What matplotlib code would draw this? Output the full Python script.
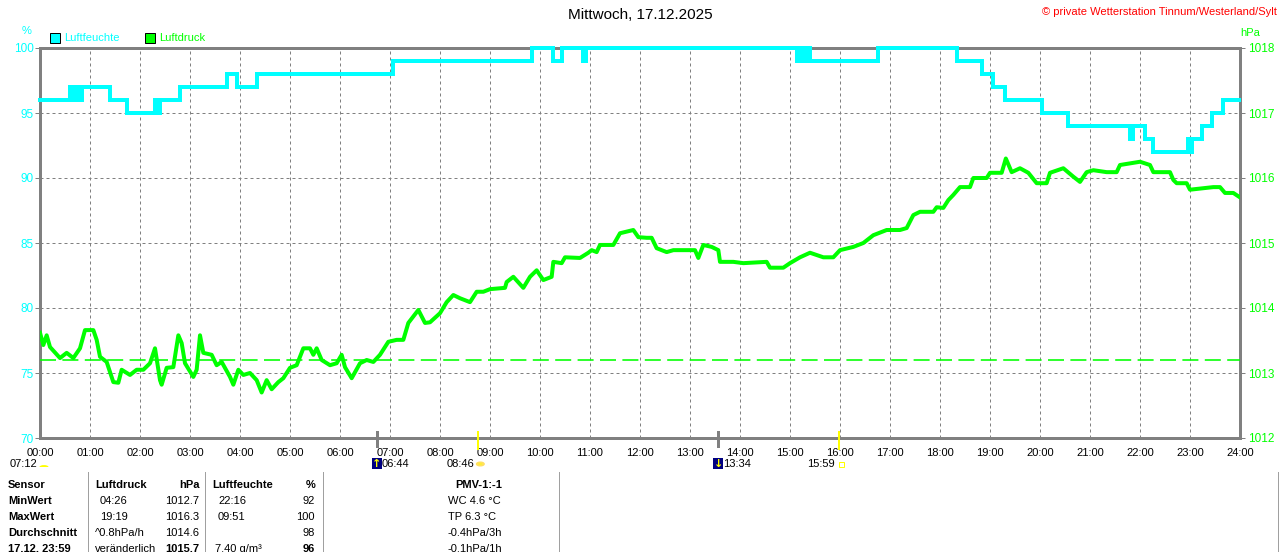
import matplotlib
matplotlib.use('Agg')
import matplotlib.pyplot as plt
from matplotlib import transforms
from matplotlib.lines import Line2D
from matplotlib.patches import Rectangle, Wedge, Circle

plt.rcParams['font.family'] = ['Liberation Sans', 'DejaVu Sans']

# Luftfeuchte in %, Minute seit Mitternacht an der sich der Wert aendert
feuchte_min = [0, 36, 40, 44, 48, 50, 84, 104, 138, 141, 144, 168, 224, 236, 260,
               424, 590, 616, 626, 652, 655, 908, 912, 916, 920, 924, 1006, 1100,
               1130, 1144, 1158, 1202, 1234, 1308, 1312, 1326, 1336, 1378, 1380,
               1382, 1394, 1406, 1420, 1439]
feuchte = [96, 97, 96, 97, 96, 97, 96, 95, 96, 95, 96, 97, 98, 97, 98,
           99, 100, 99, 100, 99, 100, 99, 100, 99, 100, 99, 100, 99,
           98, 97, 96, 95, 94, 93, 94, 93, 92, 93, 92,
           93, 94, 95, 96, 96]

# Luftdruck in hPa
druck_min = [0, 4, 8, 12, 24, 32, 40, 48, 54, 64, 68, 72, 80, 88, 94, 98, 108, 116,
             124, 132, 138, 144, 146, 152, 160, 166, 170, 174, 184, 188, 192, 196,
             206, 212, 218, 228, 232, 238, 244, 252, 260, 266, 272, 278, 286, 292,
             300, 308, 316, 324, 328, 332, 338, 348, 356, 362, 366, 374, 384, 392,
             400, 408, 418, 428, 436, 442, 454, 462, 468, 480, 488, 496, 504, 516,
             524, 532, 540, 558, 560, 568, 580, 588, 596, 604, 614, 616, 626, 630,
             648, 658, 662, 668, 672, 688, 696, 712, 718, 728, 734, 740, 752, 760,
             786, 790, 796, 806, 814, 816, 832, 844, 872, 876, 892, 900, 912, 924,
             940, 952, 960, 976, 988, 1000, 1016, 1032, 1040, 1048, 1056, 1072,
             1076, 1084, 1090, 1096, 1104, 1116, 1120, 1136, 1140, 1154, 1159,
             1166, 1176, 1186, 1196, 1208, 1212, 1228, 1240, 1248, 1256, 1264,
             1280, 1292, 1296, 1320, 1332, 1336, 1356, 1360, 1364, 1376, 1380,
             1408, 1416, 1422, 1432, 1439]
druck = [1013.62, 1013.43, 1013.58, 1013.40, 1013.23, 1013.31, 1013.23, 1013.38,
         1013.66, 1013.66, 1013.51, 1013.25, 1013.17, 1012.86, 1012.85, 1013.05,
         1012.97, 1013.05, 1013.05, 1013.15, 1013.38, 1012.89, 1012.82, 1013.08,
         1013.09, 1013.58, 1013.46, 1013.15, 1012.94, 1013.05, 1013.58, 1013.31,
         1013.28, 1013.12, 1013.17, 1012.94, 1012.82, 1013.05, 1012.97, 1013.00,
         1012.89, 1012.70, 1012.89, 1012.75, 1012.86, 1012.92, 1013.08, 1013.12,
         1013.38, 1013.38, 1013.28, 1013.38, 1013.20, 1013.12, 1013.15, 1013.28,
         1013.09, 1012.92, 1013.15, 1013.20, 1013.17, 1013.28, 1013.48, 1013.51,
         1013.51, 1013.77, 1013.97, 1013.77, 1013.78, 1013.92, 1014.09, 1014.20,
         1014.15, 1014.09, 1014.25, 1014.25, 1014.29, 1014.31, 1014.40, 1014.48,
         1014.31, 1014.48, 1014.58, 1014.43, 1014.48, 1014.71, 1014.69, 1014.78,
         1014.77, 1014.85, 1014.89, 1014.86, 1014.97, 1014.97, 1015.15, 1015.20,
         1015.09, 1015.08, 1015.08, 1014.92, 1014.86, 1014.89, 1014.89, 1014.77,
         1014.97, 1014.94, 1014.89, 1014.71, 1014.71, 1014.69, 1014.71, 1014.62,
         1014.62, 1014.69, 1014.78, 1014.85, 1014.78, 1014.78, 1014.89, 1014.94,
         1015.00, 1015.12, 1015.20, 1015.20, 1015.23, 1015.43, 1015.48, 1015.48,
         1015.55, 1015.54, 1015.66, 1015.74, 1015.86, 1015.86, 1016.00, 1016.00,
         1016.08, 1016.08, 1016.30, 1016.09, 1016.15, 1016.08, 1015.92, 1015.92,
         1016.08, 1016.15, 1016.02, 1015.94, 1016.09, 1016.12, 1016.09, 1016.09,
         1016.20, 1016.25, 1016.20, 1016.09, 1016.09, 1015.97, 1015.92, 1015.92,
         1015.82, 1015.86, 1015.86, 1015.77, 1015.77, 1015.71]

normaldruck = 1013.2
stunden = list(range(0, 25))
stunden_labels = ['%02d:00' % h for h in stunden]
feuchte_ticks = [70, 75, 80, 85, 90, 95, 100]
druck_ticks = [1012, 1013, 1014, 1015, 1016, 1017, 1018]

# Sonne / Mond
tageslaenge = '07:12'
ereignisse = [('06:44', 'mondauf'), ('08:46', 'sonnenauf'),
              ('13:34', 'mondunter'), ('15:59', 'sonnenunter')]

tabelle_kopf = ['Sensor', 'Luftdruck', 'hPa', 'Luftfeuchte', '%', 'PMV-1:-1']
zeilen_name = ['MinWert', 'MaxWert', 'Durchschnitt', '17.12. 23:59']
druck_info = ['04:26', '19:19', '^0.8hPa/h', 'veränderlich']
druck_wert = ['1012.7', '1016.3', '1014.6', '1015.7']
feuchte_info = ['22:16', '09:51', '', '7.40 g/m³']
feuchte_wert = ['92', '100', '98', '96']
pmv_info = ['WC 4.6 °C', 'TP 6.3 °C', '-0.4hPa/3h', '-0.1hPa/1h']

CYAN = '#00ffff'
GRUEN = '#00ff00'
GRAU = '#808080'
W, H = 1280, 552
PX = 72 / 100


def fpos(x, y):
    return x / W, 1 - y / H


fig = plt.figure(figsize=(W / 100, H / 100), dpi=100)
fig.patch.set_facecolor('white')
ax = fig.add_axes([40 / W, 1 - 438 / H, 1200 / W, 390 / H])
ax2 = ax.twinx()

ax.set_xlim(0, 24)
ax.set_ylim(70, 100)
ax2.set_ylim(1012, 1018)

ax.grid(True, color=GRAU, linestyle=(0, (3, 3)), linewidth=1 * PX, zorder=0)
ax.set_axisbelow(True)

fh = [m / 60 for m in feuchte_min]
dh = [m / 60 for m in druck_min]
ax.plot(fh, feuchte, color=CYAN, linewidth=4 * PX, drawstyle='steps-post',
        solid_joinstyle='miter', zorder=3, clip_on=False)
ax2.axhline(normaldruck, color=GRUEN, linestyle=(0, (10, 4)), linewidth=1.6 * PX)
ax2.plot(dh, druck, color=GRUEN, linewidth=4 * PX, zorder=3)

ax.set_xticks(stunden)
ax.set_xticklabels(stunden_labels)
ax.set_yticks(feuchte_ticks)
ax2.set_yticks(druck_ticks)
ax.tick_params(axis='x', length=0, pad=7, labelsize=8, colors='black')
ax.tick_params(axis='y', length=5 * PX, width=1 * PX, color=GRAU, pad=1,
               labelsize=8.5, labelcolor=CYAN)
ax2.tick_params(axis='y', length=5 * PX, width=1 * PX, color=GRAU, pad=2,
                labelsize=8.5, labelcolor=GRUEN)
for s in ax.spines.values():
    s.set_color(GRAU)
    s.set_linewidth(3 * PX)
for s in ax2.spines.values():
    s.set_visible(False)

# Titel und Texte oben
fig.text(*fpos(640, 15), 'Mittwoch, 17.12.2025', ha='center', va='center', fontsize=11)
fig.text(*fpos(1277, 12), '© private Wetterstation Tinnum/Westerland/Sylt',
         ha='right', va='center', fontsize=8, color='red')
fig.text(*fpos(27, 31), '%', ha='center', va='center', fontsize=8, color=CYAN)
fig.text(*fpos(1250, 33), 'hPa', ha='center', va='center', fontsize=8, color=GRUEN)
for x0, farbe, name in [(50, CYAN, 'Luftfeuchte'), (145, GRUEN, 'Luftdruck')]:
    fig.add_artist(Rectangle(fpos(x0, 43), 10 / W, 10 / H, facecolor=farbe,
                             edgecolor='black', linewidth=1 * PX))
    fig.text(*fpos(x0 + 14, 38), name, ha='left', va='center', fontsize=8, color=farbe)

# Sonnen- und Mondzeiten unter der Achse
trans = transforms.blended_transform_factory(ax.transData, ax.transAxes)
fig.text(*fpos(37, 464), tageslaenge, ha='right', va='center', fontsize=8)
fig.add_artist(Wedge(fpos(44, 467), 4.5 / W, 0, 180, facecolor='#ffff00',
                     edgecolor='none', transform=fig.transFigure))
for zeit, art in ereignisse:
    hh, mm = zeit.split(':')
    t = int(hh) + int(mm) / 60
    xp = ax.transData.transform((t, 0))[0]
    if art.startswith('sonne'):
        ax.plot([t, t], [-0.027, 0.016], color='#ffff00', linewidth=2 * PX,
                transform=trans, clip_on=False, zorder=5)
        fig.text(*fpos(xp - 4, 464), zeit, ha='right', va='center', fontsize=8)
        if art == 'sonnenauf':
            fig.add_artist(Circle(fpos(xp + 2, 464), 3.5 / W, facecolor='#ffff00',
                                  edgecolor='#ffe060', linewidth=2 * PX))
        else:
            fig.add_artist(Rectangle(fpos(xp, 467), 5 / W, 5 / H, facecolor='white',
                                     edgecolor='#ffff00', linewidth=1 * PX))
    else:
        ax.plot([t, t], [-0.02, 0.016], color=GRAU, linewidth=3 * PX,
                transform=trans, clip_on=False, zorder=5)
        fig.add_artist(Rectangle(fpos(xp - 5, 469), 10 / W, 11 / H,
                                 facecolor='#000080', edgecolor='none'))
        fig.text(*fpos(xp, 464), '↑' if art == 'mondauf' else '↓', ha='center',
                 va='center', fontsize=8, color='#ffff00', fontweight='bold',
                 family='DejaVu Sans')
        fig.text(*fpos(xp + 5, 464), zeit, ha='left', va='center', fontsize=8)

# Tabelle
for xl in [88, 205, 323, 559, 1278]:
    fig.add_artist(Line2D([xl / W, xl / W], [1 - 472 / H, 0], color='#a0a0a0',
                          linewidth=1 * PX))
zy = [485, 501, 517, 533, 549]
fig.text(*fpos(8, zy[0]), tabelle_kopf[0], ha='left', va='center', fontsize=8, fontweight='bold')
fig.text(*fpos(95, zy[0]), tabelle_kopf[1], ha='left', va='center', fontsize=8, fontweight='bold')
fig.text(*fpos(200, zy[0]), tabelle_kopf[2], ha='right', va='center', fontsize=8, fontweight='bold')
fig.text(*fpos(212, zy[0]), tabelle_kopf[3], ha='left', va='center', fontsize=8, fontweight='bold')
fig.text(*fpos(316, zy[0]), tabelle_kopf[4], ha='right', va='center', fontsize=8, fontweight='bold')
fig.text(*fpos(479, zy[0]), tabelle_kopf[5], ha='center', va='center', fontsize=8, fontweight='bold')
for i in range(4):
    y = zy[i + 1]
    letzte = i == 3
    fig.text(*fpos(8, y), zeilen_name[i], ha='left', va='center', fontsize=8, fontweight='bold')
    fig.text(*fpos(95 if letzte or i == 2 else 100, y), druck_info[i], ha='left',
             va='center', fontsize=8)
    fig.text(*fpos(199, y), druck_wert[i], ha='right', va='center', fontsize=8,
             fontweight='bold' if letzte else 'normal')
    fig.text(*fpos(215 if letzte else 218, y), feuchte_info[i], ha='left', va='center', fontsize=8)
    fig.text(*fpos(315, y), feuchte_wert[i], ha='right', va='center', fontsize=8,
             fontweight='bold' if letzte else 'normal')
    fig.text(*fpos(448, y), pmv_info[i], ha='left', va='center', fontsize=8)

fig.savefig('out.png', dpi=100, facecolor='white')
